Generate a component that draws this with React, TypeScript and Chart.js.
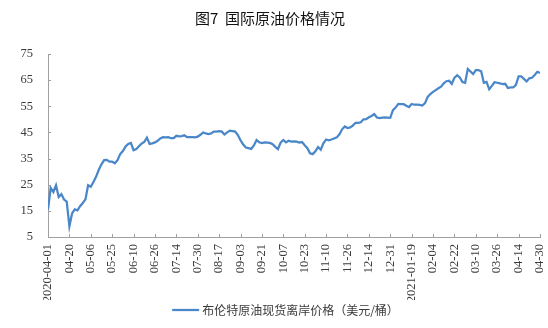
import React, { useEffect, useRef } from 'react';
import { Chart, registerables } from 'chart.js';

Chart.register(...registerables);

const TITLE = '图7  国际原油价格情况';
const SERIES_NAME = '布伦特原油现货离岸价格（美元/桶）';

const X_TICK_LABELS = [
  '2020-04-01', '04-20', '05-06', '05-25', '06-10', '06-26', '07-14', '07-30',
  '08-17', '09-03', '09-21', '10-07', '10-23', '11-10', '11-26', '12-14',
  '12-31', '2021-01-19', '02-04', '02-22', '03-10', '03-26', '04-14', '04-30',
];

// trading-day samples between consecutive tick labels
const POINTS_PER_TICK = 8;

const BRENT = [
  15.5, 23.8, 22.2, 24.8, 20.3, 21.4, 19.3, 18.5,
  9.1, 14.0, 15.6, 15.2, 16.8, 18.0, 19.4, 24.8,
  24.2, 26.0, 28.1, 30.7, 32.8, 34.4, 34.5, 33.8,
  33.8, 33.2, 34.4, 36.7, 37.9, 39.6, 40.6, 41.0,
  38.2, 38.6, 39.7, 40.7, 41.4, 43.0, 40.6, 40.8,
  41.2, 41.8, 42.7, 43.2, 43.1, 43.2, 42.8, 42.8,
  43.7, 43.5, 43.6, 43.9, 43.2, 43.2, 43.2, 43.1,
  43.4, 44.1, 45.0, 44.6, 44.4, 44.6, 45.3, 45.3,
  45.5, 45.3, 44.2, 45.0, 45.7, 45.5, 45.3, 44.0,
  42.0, 40.4, 39.2, 39.0, 38.7, 40.0, 42.1, 41.2,
  40.9, 41.2, 41.1, 41.0, 40.5, 39.5, 38.6, 41.1,
  42.1, 41.2, 41.8, 41.5, 41.6, 41.5, 41.1, 41.3,
  40.1, 39.0, 37.0, 36.7, 37.8, 39.4, 38.4, 40.8,
  42.3, 42.0, 42.3, 42.7, 43.1, 44.3, 46.2, 47.3,
  46.7, 46.9, 47.6, 48.7, 48.7, 48.9, 50.0, 50.1,
  50.8, 51.3, 52.0, 50.7, 50.5, 50.7, 50.8, 50.7,
  50.6, 53.5, 54.5, 55.9, 55.8, 55.8, 55.2, 54.7,
  55.9, 55.6, 55.6, 55.5, 55.3, 56.2, 58.6, 59.7,
  60.5, 61.2, 61.9, 62.5, 63.8, 64.6, 64.8, 63.6,
  65.9, 66.9, 66.0, 64.3, 64.0, 69.3, 68.3, 67.3,
  68.8, 68.8, 68.4, 64.0, 64.3, 61.5, 62.8, 64.2,
  64.0, 63.8, 63.5, 63.6, 62.0, 62.2, 62.2, 63.2,
  66.4, 66.4, 65.5, 64.5, 65.7, 65.9, 67.0, 68.2,
  67.7,
];

const Y_MIN = 5;
const Y_MAX = 75;
const Y_STEP = 10;

const LINE_COLOR = '#4a87c9';
const AXIS_COLOR = '#a0a0a0';
const TEXT_COLOR = '#3a3a3a';
const CJK_FONT = '"Noto Sans CJK SC", "Noto Sans", sans-serif';
const SERIF_FONT = '"Liberation Serif", "DejaVu Serif", serif';

const innerTicks = {
  id: 'innerTicks',
  afterDraw(chart: any) {
    const { ctx, chartArea, scales } = chart;
    const len = 3;
    ctx.save();
    ctx.strokeStyle = AXIS_COLOR;
    ctx.lineWidth = 1;
    ctx.beginPath();
    scales.x.ticks.forEach((t: any) => {
      const px = Math.round(scales.x.getPixelForValue(t.value)) + 0.5;
      ctx.moveTo(px, chartArea.bottom);
      ctx.lineTo(px, chartArea.bottom - len);
    });
    scales.y.ticks.forEach((t: any) => {
      const py = Math.round(scales.y.getPixelForValue(t.value)) + 0.5;
      ctx.moveTo(chartArea.left, py);
      ctx.lineTo(chartArea.left + len, py);
    });
    ctx.stroke();
    ctx.restore();
  },
};

const bottomLegend = {
  id: 'bottomLegend',
  afterDraw(chart: any) {
    const { ctx } = chart;
    const ds = chart.data.datasets[0];
    const lineLen = 27;
    const gap = 3;
    const centerX = 285.5;
    const y = chart.height - 18;
    ctx.save();
    ctx.font = `12px ${CJK_FONT}`;
    const tw = ctx.measureText(ds.label).width;
    const total = lineLen + gap + tw;
    const x0 = centerX - total / 2;
    ctx.strokeStyle = ds.borderColor;
    ctx.lineWidth = ds.borderWidth;
    ctx.beginPath();
    ctx.moveTo(x0, y);
    ctx.lineTo(x0 + lineLen, y);
    ctx.stroke();
    ctx.fillStyle = TEXT_COLOR;
    ctx.textBaseline = 'middle';
    ctx.textAlign = 'left';
    ctx.fillText(ds.label, x0 + lineLen + gap, y);
    ctx.restore();
  },
};

export default function App() {
  const canvasRef = useRef<HTMLCanvasElement | null>(null);

  useEffect(() => {
    if (!canvasRef.current) return;
    const chart = new Chart(canvasRef.current, {
      type: 'line',
      data: {
        datasets: [
          {
            label: SERIES_NAME,
            data: BRENT.map((v, i) => ({ x: i / POINTS_PER_TICK, y: v })),
            borderColor: LINE_COLOR,
            backgroundColor: LINE_COLOR,
            borderWidth: 2.25,
            pointRadius: 0,
            tension: 0,
            fill: false,
          },
        ],
      },
      options: {
        animation: false,
        responsive: false,
        devicePixelRatio: 1,
        layout: { padding: { left: 0, right: 8, top: 0, bottom: 28 } },
        plugins: {
          legend: { display: false },
          tooltip: { enabled: false },
          title: {
            display: true,
            text: TITLE,
            color: '#111111',
            font: { family: CJK_FONT, size: 15, weight: 'normal' },
            padding: { top: 9, bottom: 27 },
          },
        },
        scales: {
          x: {
            type: 'linear',
            min: 0,
            max: X_TICK_LABELS.length - 1,
            grid: { display: false, drawTicks: false },
            border: { display: true, color: AXIS_COLOR, width: 1 },
            ticks: {
              stepSize: 1,
              autoSkip: false,
              minRotation: 90,
              maxRotation: 90,
              padding: 7,
              color: TEXT_COLOR,
              font: { family: SERIF_FONT, size: 12.5 },
              callback: (v: any) => X_TICK_LABELS[Math.round(Number(v))] ?? '',
            },
            afterFit: (scale: any) => {
              scale.height = 63;
              scale.paddingLeft = 0;
              scale.paddingRight = 0;
            },
          },
          y: {
            min: Y_MIN,
            max: Y_MAX,
            grid: { display: false, drawTicks: false },
            border: { display: true, color: AXIS_COLOR, width: 1 },
            ticks: {
              stepSize: Y_STEP,
              padding: 15,
              color: TEXT_COLOR,
              font: { family: SERIF_FONT, size: 12.5 },
            },
            afterFit: (scale: any) => {
              scale.width = 48;
              scale.paddingTop = 0;
              scale.paddingBottom = 0;
            },
          },
        },
      },
      plugins: [innerTicks, bottomLegend],
    });
    return () => chart.destroy();
  }, []);

  return (
    <div style={{ position: 'absolute', left: 0, top: 0, width: 548, height: 328, background: '#fff' }}>
      <canvas ref={canvasRef} width={548} height={328} />
    </div>
  );
}
